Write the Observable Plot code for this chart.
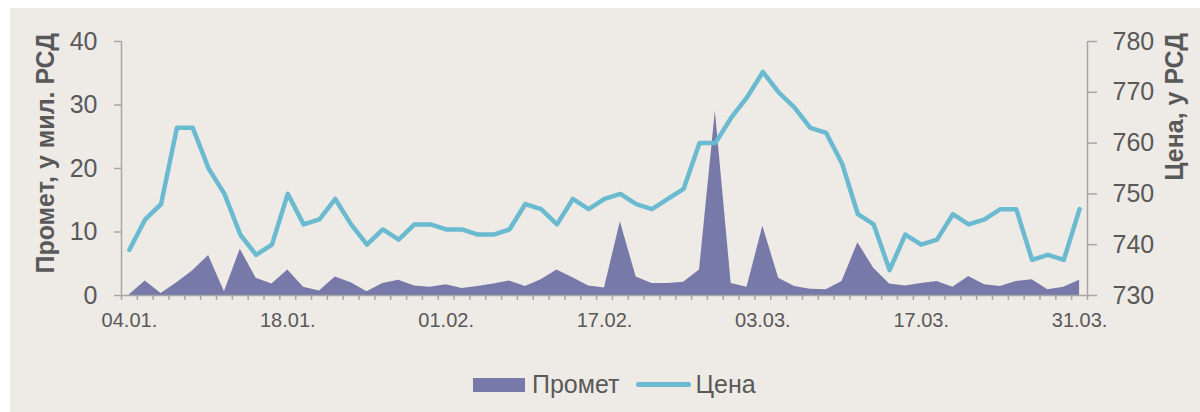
<!DOCTYPE html>
<html>
<head>
<meta charset="utf-8">
<script src="https://cdn.jsdelivr.net/npm/d3@7"></script>
<script src="https://cdn.jsdelivr.net/npm/@observablehq/plot@0.6"></script>
<style>
  html, body { margin: 0; padding: 0; background: #ffffff; }
  #panel { position: absolute; left: 10px; top: 8px; width: 1190px; height: 404px; background: #EEEAE6; overflow: hidden; }
  #chart { position: absolute; left: 0; top: 0; }
  #legend { position: absolute; left: 463px; top: 362px; display: flex; align-items: center; font-family: "Liberation Sans", Arial, sans-serif; font-size: 25px; color: #595959; white-space: nowrap; }
  .sw-area { width: 52px; height: 14px; background: #7779A9; margin-right: 7px; }
  .sw-line { width: 55px; height: 5px; border-radius: 3px; background: #6ABAD0; margin-left: 16px; margin-right: 5px; }
</style>
</head>
<body>
<div id="panel">
  <div id="chart"></div>
  <div id="legend"><div class="sw-area"></div><span>Промет</span><div class="sw-line"></div><span>Цена</span></div>
</div>
<script>
const dates = [
  "04.01.","05.01.","06.01.","07.01.","08.01.","11.01.","12.01.","13.01.","14.01.","15.01.",
  "18.01.","19.01.","20.01.","21.01.","22.01.","25.01.","26.01.","27.01.","28.01.","29.01.",
  "01.02.","02.02.","03.02.","04.02.","05.02.","08.02.","09.02.","10.02.","11.02.","12.02.",
  "17.02.","18.02.","19.02.","22.02.","23.02.","24.02.","25.02.","26.02.","01.03.","02.03.",
  "03.03.","04.03.","05.03.","08.03.","09.03.","10.03.","11.03.","12.03.","15.03.","16.03.",
  "17.03.","18.03.","19.03.","22.03.","23.03.","24.03.","25.03.","26.03.","29.03.","30.03.","31.03."
];
// Промет, у мил. РСД (left axis)
const volume = [
  0.1,2.3,0.3,2.0,3.9,6.3,0.6,7.3,2.7,1.8,
  4.0,1.3,0.7,2.9,2.0,0.6,1.9,2.4,1.5,1.3,
  1.7,1.1,1.4,1.8,2.3,1.4,2.5,4.0,2.8,1.5,
  1.2,11.6,2.9,1.9,1.9,2.1,4.0,29.0,1.9,1.3,
  10.9,2.7,1.4,1.0,0.9,2.2,8.3,4.3,1.8,1.5,
  1.9,2.2,1.3,3.0,1.7,1.4,2.2,2.5,0.9,1.3,2.4
];
// Цена, у РСД (right axis)
const price = [
  739,745,748,763,763,755,750,742,738,740,
  750,744,745,749,744,740,743,741,744,744,
  743,743,742,742,743,748,747,744,749,747,
  749,750,748,747,749,751,760,760,765,769,
  774,770,767,763,762,756,746,744,735,742,
  740,741,746,744,745,747,747,737,738,737,747
];
const leftTicks = [0, 10, 20, 30, 40];
const rightTicks = [730, 740, 750, 760, 770, 780];
const labelIdx = [0, 10, 20, 30, 40, 50, 60];

const leftMax = 40, rMin = 730, rMax = 780;
const toLeft = p => (p - rMin) * leftMax / (rMax - rMin);
const idx = d3.range(dates.length);
const axisGray = "#A6A6A6";

const chart = Plot.plot({
  width: 1190,
  height: 340,
  marginLeft: 111,
  marginRight: 113,
  marginTop: 33,
  marginBottom: 53,
  style: { fontFamily: "'Liberation Sans', Arial, sans-serif", fontSize: "25px", color: "#595959", background: "transparent", overflow: "visible" },
  x: { type: "linear", domain: [-0.5, dates.length - 0.5] },
  y: { domain: [0, leftMax] },
  marks: [
    Plot.areaY(idx, { x: i => i, y: i => volume[i], fill: "#7779A9" }),
    Plot.ruleY([0], { stroke: axisGray, strokeWidth: 1.5 }),
    Plot.ruleX([-0.5, dates.length - 0.5], { y1: 0, y2: leftMax, stroke: axisGray, strokeWidth: 1.5 }),
    Plot.lineY(idx, { x: i => i, y: i => toLeft(price[i]), stroke: "#6ABAD0", strokeWidth: 4.5, strokeLinejoin: "round", strokeLinecap: "round" }),
    Plot.axisY({ anchor: "left", ticks: leftTicks, tickSize: 7, tickPadding: 17, stroke: axisGray, strokeWidth: 1.5, fill: "#595959", label: null }),
    Plot.axisY({ anchor: "right", ticks: rightTicks.map(toLeft), tickFormat: d => String(Math.round(rMin + d * (rMax - rMin) / leftMax)), tickSize: 9, tickPadding: 16, stroke: axisGray, strokeWidth: 1.5, fill: "#595959", label: null }),
    Plot.axisX({ ticks: d3.range(-0.5, dates.length, 1), tickSize: 5, tickFormat: () => "", stroke: axisGray, strokeWidth: 1.5, label: null }),
    Plot.axisX({ ticks: labelIdx, tickSize: 0, tickPadding: 17, tickFormat: i => dates[i], fontSize: 20, fill: "#595959", label: null })
  ]
});
document.getElementById("chart").appendChild(chart);

const svg = d3.select(chart);
svg.append("text")
  .attr("transform", "translate(44,25) rotate(-90)")
  .attr("text-anchor", "end")
  .attr("font-family", "'Liberation Sans', Arial, sans-serif")
  .attr("font-size", 25).attr("font-weight", "bold").attr("fill", "#595959")
  .text("Промет, у мил. РСД");
svg.append("text")
  .attr("transform", "translate(1173,25) rotate(-90)")
  .attr("text-anchor", "end")
  .attr("font-family", "'Liberation Sans', Arial, sans-serif")
  .attr("font-size", 25).attr("font-weight", "bold").attr("fill", "#595959")
  .text("Цена, у РСД");
</script>
</body>
</html>
